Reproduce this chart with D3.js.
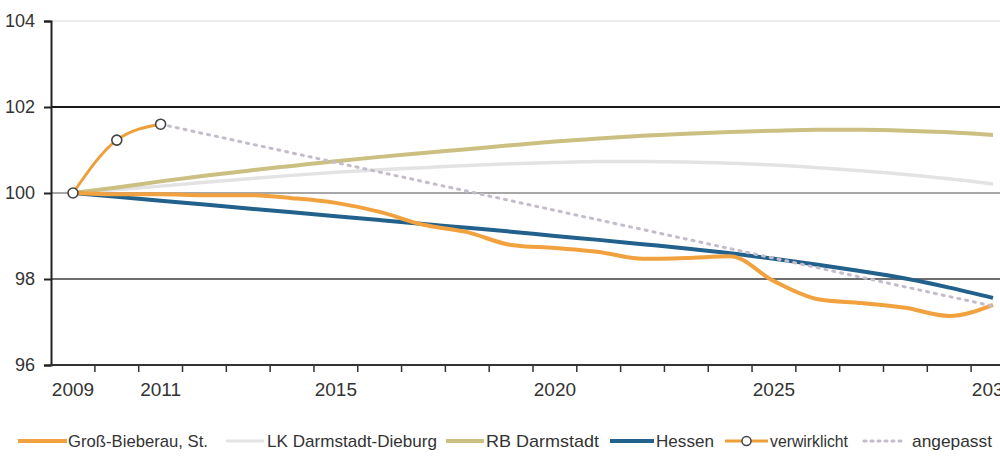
<!DOCTYPE html>
<html><head><meta charset="utf-8">
<script src="https://cdn.jsdelivr.net/npm/d3@7"></script>
<style>
body{margin:0;background:#fff;}
text{font-family:"Liberation Sans Narrow","Arial Narrow","Liberation Sans",sans-serif;fill:#333;}
</style></head>
<body><svg id="c" width="1000" height="457"></svg>
<script>
const years = d3.range(2009, 2031);
const xLabels = [2009, 2011, 2015, 2020, 2025, 2030];
const yTicks = [96, 98, 100, 102, 104];

const grossBieberau = [100, 99.97, 99.97, 99.95, 99.95, 99.88, 99.77, 99.56, 99.26, 99.09, 98.79, 98.72, 98.63, 98.47, 98.49, 98.53, 97.95, 97.53, 97.44, 97.33, 97.14, 97.40];
const lkDarmstadtDieburg = [100, 100.08, 100.16, 100.25, 100.33, 100.41, 100.48, 100.54, 100.59, 100.64, 100.68, 100.71, 100.73, 100.73, 100.72, 100.69, 100.65, 100.59, 100.52, 100.43, 100.33, 100.21];
const rbDarmstadt = [100, 100.13, 100.27, 100.40, 100.52, 100.63, 100.74, 100.84, 100.93, 101.02, 101.11, 101.20, 101.27, 101.33, 101.38, 101.42, 101.45, 101.47, 101.47, 101.45, 101.41, 101.35];
const hessen = [100, 99.91, 99.82, 99.73, 99.64, 99.55, 99.46, 99.37, 99.28, 99.19, 99.10, 99.00, 98.91, 98.81, 98.71, 98.60, 98.47, 98.33, 98.18, 98.01, 97.80, 97.56];
const verwirklichtYears = [2009, 2010, 2011];
const verwirklicht = [100, 101.23, 101.6];
const angepasstYears = [2011, 2030];
const angepasst = [101.6, 97.37];

const legendItems = ["Groß-Bieberau, St.", "LK Darmstadt-Dieburg", "RB Darmstadt", "Hessen", "verwirklicht", "angepasst"];

const svg = d3.select("#c");
const x = d3.scalePoint().domain(years).range([73, 993]);
const step = x.step();
const y = d3.scaleLinear().domain([96, 104]).range([365, 21]);
const x0 = 51, x1 = 1000;

// gridlines
const gridStyle = {104: ["#e6e6e6", 1.5], 102: ["#1a1a1a", 2], 100: ["#8a8a8a", 1.6], 98: ["#6e6e6e", 2]};
[104, 102, 100, 98].forEach(v => {
  svg.append("line").attr("x1", x0).attr("x2", x1).attr("y1", y(v)).attr("y2", y(v))
    .attr("stroke", gridStyle[v][0]).attr("stroke-width", gridStyle[v][1]);
});

// y axis
const yAxis = d3.axisLeft(y).tickValues(yTicks).tickSize(7).tickPadding(9).tickFormat(d3.format("d"));
const ya = svg.append("g").attr("transform", `translate(${x0},0)`).call(yAxis);
ya.select(".domain").attr("stroke", "#222").attr("stroke-width", 2);
ya.selectAll(".tick line").attr("stroke", "#222").attr("stroke-width", 2);
ya.selectAll("text").style("font-size", "18px").attr("fill", "#333")
  .style("font-family", '"Liberation Sans Narrow","Arial Narrow",sans-serif');

// x axis baseline
svg.append("line").attr("x1", x0 - 1).attr("x2", x1).attr("y1", y(96)).attr("y2", y(96))
  .attr("stroke", "#333").attr("stroke-width", 2);
// category boundary ticks
years.forEach(yr => {
  const bx = x(yr) + step / 2;
  if (bx < x1) svg.append("line").attr("x1", bx).attr("x2", bx).attr("y1", y(96)).attr("y2", y(96) + 7)
    .attr("stroke", "#333").attr("stroke-width", 1.5);
});
xLabels.forEach(yr => {
  svg.append("text").attr("x", x(yr)).attr("y", 396).attr("text-anchor", "middle")
    .style("font-size", "19px").text(yr);
});

const line = d3.line().x(d => x(d[0])).y(d => y(d[1])).curve(d3.curveMonotoneX);
const zipY = (vals) => years.map((yr, i) => [yr, vals[i]]);

svg.append("path").datum(zipY(lkDarmstadtDieburg)).attr("d", line)
  .attr("fill", "none").attr("stroke", "#e3e3e3").attr("stroke-width", 3.5);
svg.append("path").datum(zipY(rbDarmstadt)).attr("d", line)
  .attr("fill", "none").attr("stroke", "#cbbf82").attr("stroke-width", 4);
svg.append("path").datum(zipY(hessen)).attr("d", line)
  .attr("fill", "none").attr("stroke", "#21618c").attr("stroke-width", 4);
svg.append("path").datum(zipY(grossBieberau)).attr("d", line)
  .attr("fill", "none").attr("stroke", "#f1a23f").attr("stroke-width", 4);

const angData = angepasstYears.map((yr, i) => [yr, angepasst[i]]);
svg.append("path").datum(angData).attr("d", d3.line().x(d => x(d[0])).y(d => y(d[1])))
  .attr("fill", "none").attr("stroke", "#c4bccb").attr("stroke-width", 3).attr("stroke-dasharray", "2,6")
  .attr("stroke-linecap", "round");

const verData = verwirklichtYears.map((yr, i) => [yr, verwirklicht[i]]);
svg.append("path").datum(verData).attr("d", line)
  .attr("fill", "none").attr("stroke", "#ef9f3a").attr("stroke-width", 3);
svg.selectAll("circle.v").data(verData).enter().append("circle")
  .attr("cx", d => x(d[0])).attr("cy", d => y(d[1])).attr("r", 5)
  .attr("fill", "#fff").attr("stroke", "#444").attr("stroke-width", 1.6);

// legend
const ly = 441;
const leg = [
  {lx: 18, lw: 49, tx: 68, tl: 140, color: "#f1a23f", w: 4},
  {lx: 226, lw: 38, tx: 267, tl: 170, color: "#e3e3e3", w: 3},
  {lx: 446, lw: 38, tx: 486, tl: 113, color: "#cbbf82", w: 4},
  {lx: 610, lw: 44, tx: 656, tl: 58, color: "#21618c", w: 4},
  {lx: 725, lw: 43, tx: 770, tl: 78, color: "#ef9f3a", w: 3, marker: true},
  {lx: 864, lw: 42, tx: 912, tl: 80, color: "#c4bccb", w: 3, dash: true}
];
leg.forEach((d, i) => {
  const l = svg.append("line").attr("x1", d.lx).attr("x2", d.lx + d.lw).attr("y1", ly).attr("y2", ly)
    .attr("stroke", d.color).attr("stroke-width", d.w);
  if (d.dash) l.attr("stroke-dasharray", "2,5").attr("stroke-linecap", "round");
  if (d.marker) svg.append("circle").attr("cx", d.lx + d.lw / 2).attr("cy", ly).attr("r", 4.5)
    .attr("fill", "#fff").attr("stroke", "#444").attr("stroke-width", 1.5);
  svg.append("text").attr("x", d.tx).attr("y", ly + 6).style("font-size", "17px")
    .attr("textLength", d.tl).attr("lengthAdjust", "spacingAndGlyphs").text(legendItems[i]);
});
</script></body></html>
